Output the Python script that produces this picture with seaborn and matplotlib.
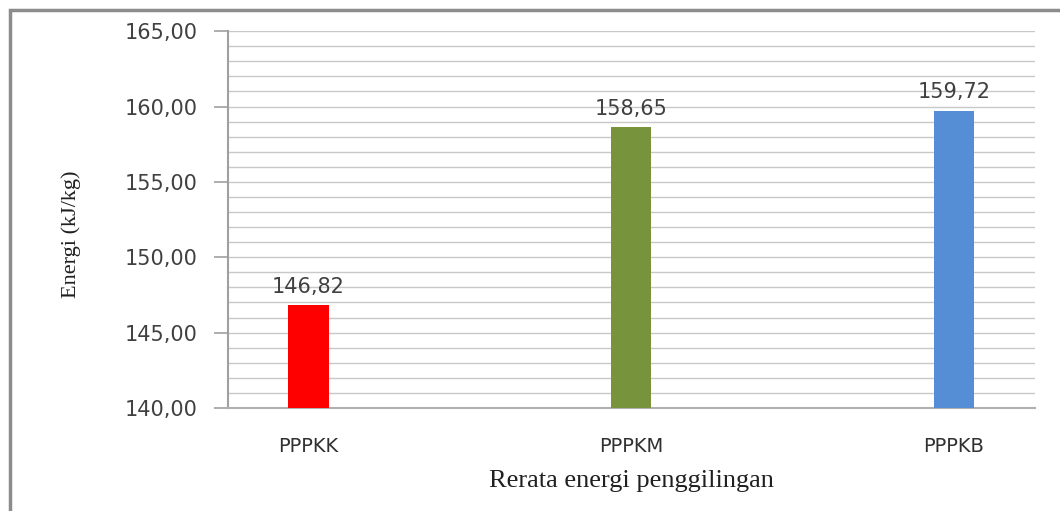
import matplotlib
matplotlib.use("Agg")
import matplotlib.pyplot as plt
import seaborn as sns
import pandas as pd
from matplotlib.patches import Rectangle
from matplotlib.ticker import MultipleLocator, FuncFormatter

# data
categories = ["PPPKK", "PPPKM", "PPPKB"]
energi = [146.82, 158.65, 159.72]
bar_colors = ["#FF0000", "#77933C", "#558ED5"]

df = pd.DataFrame({"kategori": categories, "energi": energi})

sns.set_theme(style="white")
plt.rcParams["font.family"] = ["DejaVu Sans"]

fig = plt.figure(figsize=(10.6, 5.11), dpi=100)
ax = fig.add_axes([0.215, 0.2016, 0.761, 0.7374])

sns.barplot(data=df, x="kategori", y="energi", hue="kategori",
            palette=bar_colors, width=0.125, saturation=1, linewidth=0,
            edgecolor="none", legend=False, ax=ax, zorder=3)

ax.set_ylim(140, 165)
ax.set_xlim(-0.25, 2.25)

# gridlines every 1, labels every 5
ax.yaxis.set_major_locator(MultipleLocator(5))
ax.yaxis.set_minor_locator(MultipleLocator(1))
ax.yaxis.set_major_formatter(FuncFormatter(lambda v, p: f"{v:.2f}".replace(".", ",")))
ax.grid(axis="y", which="both", color="#c8c8c8", linewidth=1.0, zorder=0)
ax.set_axisbelow(True)

ax.tick_params(axis="y", which="major", left=True, length=10, width=1.2,
               color="#a0a0a0", labelsize=15, labelcolor="#404040", pad=12)
ax.tick_params(axis="y", which="minor", left=False)
ax.tick_params(axis="x", bottom=False, labelsize=14, labelcolor="#303030", pad=15)

for side in ["top", "right"]:
    ax.spines[side].set_visible(False)
ax.spines["left"].set_color("#a0a0a0")
ax.spines["left"].set_linewidth(1.5)
ax.spines["bottom"].set_color("#b0b0b0")
ax.spines["bottom"].set_linewidth(1.5)

# value labels above bars
for i, v in enumerate(energi):
    ax.text(i, v + 0.55, f"{v:.2f}".replace(".", ","), ha="center", va="bottom",
            fontsize=15, color="#404040")

ax.set_xlabel("Rerata energi penggilingan", family="Liberation Serif",
              fontsize=19, color="#202020", labelpad=10)
ax.set_ylabel("Energi (kJ/kg)", family="Liberation Serif",
              fontsize=16, color="#202020")
ax.yaxis.set_label_coords(-0.182, 0.46)

# outer frame of the picture
fig.patches.append(Rectangle((10 / 1060, -0.05), 1.1, 1.05 - 10 / 511,
                             transform=fig.transFigure, fill=False,
                             edgecolor="#8c8c8c", linewidth=2.5))

fig.savefig("out.png", dpi=100)
